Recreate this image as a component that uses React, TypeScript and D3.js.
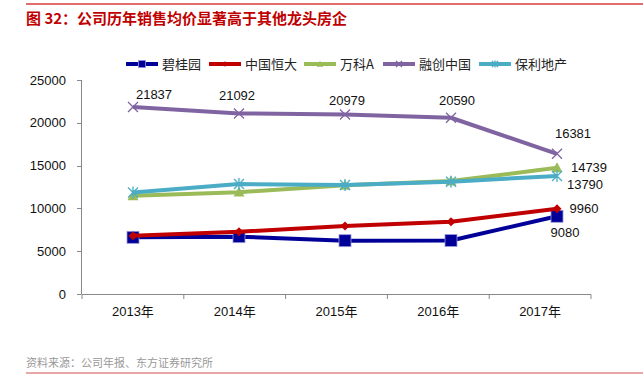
import React from "react";
import * as d3 from "d3";

const years = ["2013年", "2014年", "2015年", "2016年", "2017年"];
const seriesNames = ["碧桂园", "中国恒大", "万科A", "融创中国", "保利地产"];
const biguiyuan = [6620, 6700, 6230, 6250, 9080];
const hengda = [6800, 7280, 7940, 8450, 9960];
const vanke = [11480, 11900, 12700, 13200, 14739];
const sunac = [21837, 21092, 20979, 20590, 16381];
const poly = [11850, 12850, 12730, 13120, 13790];
const yTicks = [0, 5000, 10000, 15000, 20000, 25000];

const colors = ["#000099", "#C00000", "#9BBB59", "#8064A2", "#4BACC6"];
const markers = ["square", "diamond", "triangle", "x", "star"];
const allSeries = [biguiyuan, hengda, vanke, sunac, poly];

// which points get labels: [series index, point index, dx, dy]
const labelDefs: [number, number, number, number][] = [
  [3, 0, 21, -13],
  [3, 1, -2, -18],
  [3, 2, 2, -14],
  [3, 3, 6, -17],
  [3, 4, 16, -20],
  [2, 4, 32, 0],
  [4, 4, 28, 9],
  [1, 4, 27, 0],
  [0, 4, 8, 16],
];

const FONT = "'Liberation Sans', Arial, 'Noto Sans CJK SC', sans-serif";

function Marker({ type, x, y, color, s = 1 }: { type: string; x: number; y: number; color: string; s?: number }) {
  if (type === "square") {
    const h = 6 * s;
    return <rect x={x - h} y={y - h} width={2 * h} height={2 * h} fill={color} stroke="#9999dd" strokeWidth={0.8} />;
  }
  if (type === "diamond") {
    const h = 4.5 * s;
    return <path d={`M${x},${y - h}L${x + h},${y}L${x},${y + h}L${x - h},${y}Z`} fill={color} />;
  }
  if (type === "triangle") {
    const h = 5.5 * s;
    return <path d={`M${x},${y - h}L${x + h},${y + h * 0.8}L${x - h},${y + h * 0.8}Z`} fill={color} />;
  }
  if (type === "x") {
    const h = 5 * s;
    return <path d={`M${x - h},${y - h}L${x + h},${y + h}M${x - h},${y + h}L${x + h},${y - h}`} stroke={color} strokeWidth={1.3} fill="none" />;
  }
  const h = 5 * s;
  return (
    <path
      d={`M${x - h},${y - h}L${x + h},${y + h}M${x - h},${y + h}L${x + h},${y - h}M${x},${y - h * 1.2}L${x},${y + h * 1.2}`}
      stroke={color}
      strokeWidth={1.3}
      fill="none"
    />
  );
}

export default function App() {
  const W = 643;
  const H = 375;
  const y = d3.scaleLinear().domain([0, 25000]).range([294, 80]);
  const xBand = d3.scaleBand<string>().domain(years).range([82, 591]);
  const xPt = d3.scalePoint<string>().domain(years).range([133, 557]);
  const line = d3
    .line<number>()
    .x((_, i) => xPt(years[i]) as number)
    .y((d) => y(d));

  const legendX = [126, 209, 304, 383, 479];

  return (
    <svg width={W} height={H} style={{ position: "absolute", left: 0, top: 0, background: "#fff" }} fontFamily={FONT}>
      <line x1={26} x2={643} y1={4} y2={4} stroke="#E36C6C" strokeWidth={2} />
      <text x={26} y={24} fill="#C00000" fontSize={15} fontWeight="bold" fontFamily="'Noto Sans CJK SC', sans-serif">
        图 32：公司历年销售均价显著高于其他龙头房企
      </text>

      {/* legend */}
      {seriesNames.map((n, i) => (
        <g key={n}>
          <line x1={legendX[i]} x2={legendX[i] + 32} y1={64} y2={64} stroke={colors[i]} strokeWidth={4} />
          <Marker type={markers[i]} x={legendX[i] + 16} y={64} color={colors[i]} s={0.6} />
          <text x={legendX[i] + 36} y={68.5} fontSize={13} fill="#222" fontFamily="'Noto Sans CJK SC', sans-serif">
            {n}
          </text>
        </g>
      ))}

      {/* y axis */}
      <line x1={81.5} x2={81.5} y1={80} y2={294} stroke="#888" strokeWidth={1} />
      {yTicks.map((t) => (
        <g key={t}>
          <line x1={77} x2={81.5} y1={Math.round(y(t)) + 0.5} y2={Math.round(y(t)) + 0.5} stroke="#888" />
          <text x={66} y={y(t) + 4.5} fontSize={13} textAnchor="end" fill="#111">
            {t}
          </text>
        </g>
      ))}

      {/* x axis */}
      <line x1={82} x2={591} y1={294.5} y2={294.5} stroke="#888" />
      {[...years.map((yy) => xBand(yy) as number), 591].map((tx, i) => (
        <line key={i} x1={tx} x2={tx} y1={294.5} y2={299} stroke="#888" />
      ))}
      {years.map((yy) => (
        <text key={yy} x={(xBand(yy) as number) + xBand.bandwidth() / 2} y={316} fontSize={13} textAnchor="middle" fill="#111">
          {yy}
        </text>
      ))}

      {/* series */}
      {allSeries.map((s, si) => (
        <g key={si}>
          <path d={line(s) || ""} fill="none" stroke={colors[si]} strokeWidth={4} strokeLinejoin="round" />
          {s.map((v, i) => (
            <Marker key={i} type={markers[si]} x={xPt(years[i]) as number} y={y(v)} color={colors[si]} />
          ))}
        </g>
      ))}

      {/* labels */}
      {labelDefs.map(([si, pi, dx, dy], k) => (
        <text
          key={k}
          x={(xPt(years[pi]) as number) + dx}
          y={y(allSeries[si][pi]) + dy + 4.5}
          fontSize={13}
          textAnchor="middle"
          fill="#111"
        >
          {allSeries[si][pi]}
        </text>
      ))}

      <text x={26} y={367} fontSize={11} fill="#999" fontFamily="'Noto Sans CJK SC', sans-serif">
        资料来源：公司年报、东方证券研究所
      </text>
      <line x1={26} x2={643} y1={373} y2={373} stroke="#E08A8A" strokeWidth={1.5} />
    </svg>
  );
}
